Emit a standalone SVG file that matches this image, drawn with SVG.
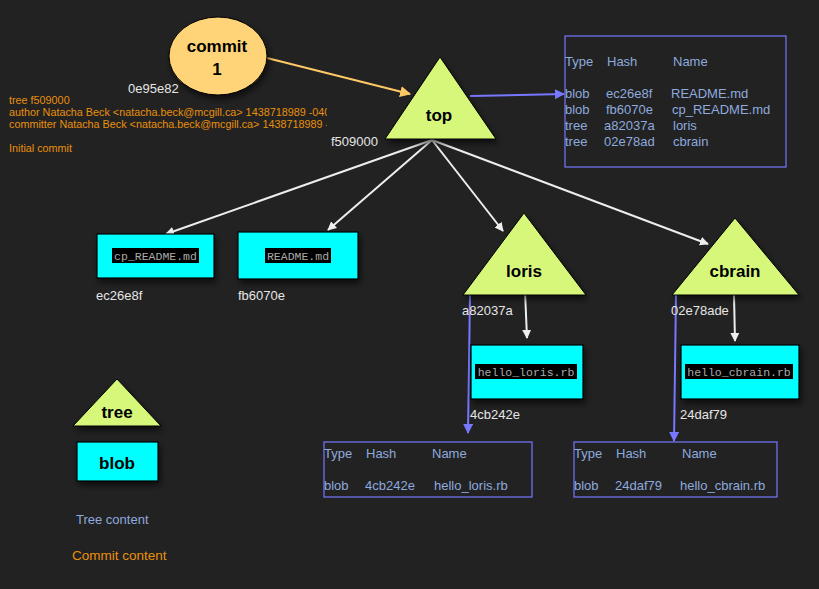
<svg xmlns="http://www.w3.org/2000/svg" width="819" height="589" viewBox="0 0 819 589">
<defs>
<filter id="sh" x="-20%" y="-20%" width="150%" height="160%"><feDropShadow dx="2" dy="4" stdDeviation="3" flood-color="#000" flood-opacity="0.6"/></filter>
<marker id="aw" viewBox="0 0 10 10" refX="9" refY="5" markerWidth="9" markerHeight="9" markerUnits="userSpaceOnUse" orient="auto"><path d="M0,0 L10,5 L0,10 z" fill="#eeeeee"/></marker>
<marker id="ab" viewBox="0 0 10 10" refX="9" refY="5" markerWidth="10" markerHeight="10" markerUnits="userSpaceOnUse" orient="auto"><path d="M0,0 L10,5 L0,10 z" fill="#7777ff"/></marker>
<marker id="ao" viewBox="0 0 10 10" refX="9" refY="5" markerWidth="11" markerHeight="11" markerUnits="userSpaceOnUse" orient="auto"><path d="M0,0 L10,5 L0,10 z" fill="#ffc966"/></marker>
<clipPath id="cc"><rect x="0" y="90" width="327" height="70"/></clipPath>
</defs>
<style>
text{font-family:"Liberation Sans",Arial,sans-serif}
.tri{fill:#d6f77a;stroke:#000;stroke-width:1;filter:url(#sh)}
.blob{fill:#00ffff;stroke:#000;stroke-width:1.2;filter:url(#sh)}
.nl{font-weight:bold;font-size:17px;fill:#000;text-anchor:middle}
.hash{font-size:13px;fill:#e6e6e6}
.lab{fill:#000}
.mono{font-family:"Liberation Mono","DejaVu Sans Mono",monospace;font-size:11.5px;fill:#aaaaaa;text-anchor:middle}
.tc{font-size:13px;fill:#8eaadf}
.oc{font-size:10.8px;fill:#e8900c}
.tb{fill:none;stroke:#7777ff;stroke-width:1.2}
.wl{stroke:#eeeeee;stroke-width:2;fill:none;marker-end:url(#aw)}
.bl{stroke:#7777ff;stroke-width:2;fill:none;marker-end:url(#ab)}
</style>
<rect width="819" height="589" fill="#222222"/>

<g id="connectors">
<line x1="267" y1="58" x2="410" y2="94" stroke="#ffc966" stroke-width="2" marker-end="url(#ao)"/>
<line x1="470" y1="96" x2="564" y2="94" class="bl"/>
<line x1="432" y1="140" x2="166" y2="234" class="wl"/>
<line x1="432" y1="140" x2="328" y2="230" class="wl"/>
<line x1="432" y1="140" x2="503" y2="231" class="wl"/>
<line x1="432" y1="140" x2="708" y2="244" class="wl"/>
<line x1="525" y1="291" x2="527" y2="338" class="wl"/>
<line x1="734" y1="295" x2="735" y2="341" class="wl"/>
<line x1="470" y1="295" x2="468" y2="433" class="bl"/>
<line x1="676" y1="295" x2="674" y2="441" class="bl"/>
</g>

<g id="commit1">
<ellipse cx="218" cy="56" rx="49" ry="39" fill="#ffd478" stroke="#000" stroke-width="1" filter="url(#sh)"/>
<text x="217" y="52" class="nl">commit</text>
<text x="217" y="75" class="nl">1</text>
<text x="128" y="93" class="hash">0e95e82</text>
</g>

<g id="commit-content" clip-path="url(#cc)">
<text x="9" y="104" class="oc">tree f509000</text>
<text x="9" y="116" class="oc">author Natacha Beck &lt;natacha.beck@mcgill.ca&gt; 1438718989 -0400</text>
<text x="9" y="128" class="oc">committer Natacha Beck &lt;natacha.beck@mcgill.ca&gt; 1438718989 -0400</text>
<text x="9" y="152" class="oc">Initial commit</text>
</g>

<g id="top">
<polygon points="440,57 385,139 496,139" class="tri"/>
<text x="439" y="121" class="nl">top</text>
<text x="331" y="146" class="hash">f509000</text>
</g>

<g id="top-content">
<rect x="565" y="36" width="221" height="131" class="tb"/>
<text x="565" y="66" class="tc">Type</text><text x="607" y="66" class="tc">Hash</text><text x="673" y="66" class="tc">Name</text>
<text x="565" y="98" class="tc">blob</text><text x="606" y="98" class="tc">ec26e8f</text><text x="671" y="98" class="tc">README.md</text>
<text x="565" y="114" class="tc">blob</text><text x="606" y="114" class="tc">fb6070e</text><text x="672" y="114" class="tc">cp_README.md</text>
<text x="565" y="130" class="tc">tree</text><text x="604" y="130" class="tc">a82037a</text><text x="673" y="130" class="tc">loris</text>
<text x="565" y="146" class="tc">tree</text><text x="604" y="146" class="tc">02e78ad</text><text x="673" y="146" class="tc">cbrain</text>
</g>

<g id="cp_readme">
<rect x="97" y="234" width="117" height="44" class="blob"/>
<rect x="112" y="248" width="87" height="15" class="lab"/>
<text x="155.5" y="259.5" class="mono">cp_README.md</text>
<text x="96" y="300" class="hash">ec26e8f</text>
</g>

<g id="readme">
<rect x="238" y="232" width="120" height="47" class="blob"/>
<rect x="265" y="248" width="66" height="15" class="lab"/>
<text x="298" y="259.5" class="mono">README.md</text>
<text x="238" y="300" class="hash">fb6070e</text>
</g>

<g id="loris">
<polygon points="524,213 463,295 586,295" class="tri"/>
<text x="524" y="277" class="nl">loris</text>
<text x="462" y="315" class="hash">a82037a</text>
</g>

<g id="cbrain">
<polygon points="735,218 672,295 799,295" class="tri"/>
<text x="735" y="277" class="nl">cbrain</text>
<text x="671" y="315" class="hash">02e78ade</text>
</g>

<g id="hello_loris">
<rect x="471" y="345" width="112" height="54" class="blob"/>
<rect x="475" y="364" width="102" height="15" class="lab"/>
<text x="526" y="375.5" class="mono">hello_loris.rb</text>
<text x="470" y="419" class="hash">4cb242e</text>
</g>

<g id="hello_cbrain">
<rect x="681" y="345" width="118" height="54" class="blob"/>
<rect x="685" y="364" width="108" height="15" class="lab"/>
<text x="739" y="375.5" class="mono">hello_cbrain.rb</text>
<text x="680" y="419" class="hash">24daf79</text>
</g>

<g id="loris-content">
<rect x="324" y="442" width="208" height="55" class="tb"/>
<text x="324" y="458" class="tc">Type</text><text x="366" y="458" class="tc">Hash</text><text x="432" y="458" class="tc">Name</text>
<text x="324" y="490" class="tc">blob</text><text x="365" y="490" class="tc">4cb242e</text><text x="434" y="490" class="tc">hello_loris.rb</text>
</g>

<g id="cbrain-content">
<rect x="574" y="442" width="203" height="55" class="tb"/>
<text x="574" y="458" class="tc">Type</text><text x="616" y="458" class="tc">Hash</text><text x="682" y="458" class="tc">Name</text>
<text x="574" y="490" class="tc">blob</text><text x="615" y="490" class="tc">24daf79</text><text x="680" y="490" class="tc">hello_cbrain.rb</text>
</g>

<g id="legend-tree">
<polygon points="117,379 73,426 161,426" class="tri"/>
<text x="117" y="418" class="nl" font-size="16">tree</text>
</g>
<g id="legend-blob">
<rect x="77" y="442" width="81" height="39" class="blob"/>
<text x="117" y="469" class="nl">blob</text>
</g>
<g id="legend-text">
<text x="76" y="524" class="tc" font-size="13">Tree content</text>
<text x="72" y="560" font-size="13.5" fill="#e8900c">Commit content</text>
</g>
</svg>
